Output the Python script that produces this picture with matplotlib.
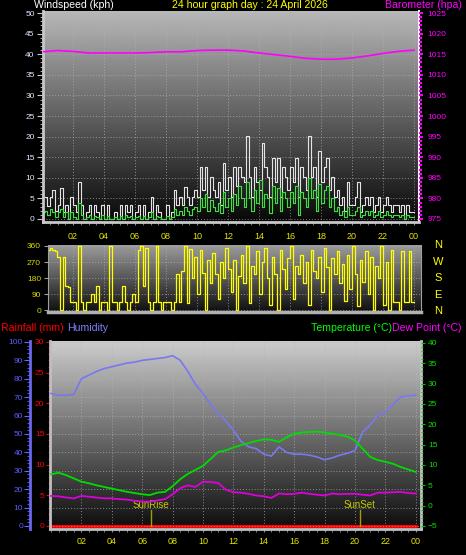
import numpy as np
import matplotlib.pyplot as plt
from matplotlib.ticker import MultipleLocator, FixedLocator

plt.rcParams['font.family'] = ['Liberation Sans', 'DejaVu Sans']

# wind, 10 minute samples over the day
hours = np.arange(145) / 6.0
gust = [5.4, 5.4, 3.2, 5.4, 7.0, 2.0,
        3.4, 7.5, 1.6, 3.4, 0.0, 5.4,
        3.4, 1.6, 9.0, 3.4, 0.0, 1.6,
        3.4, 0.0, 3.4, 1.6, 0.0, 3.4,
        0.0, 3.4, 0.0, 0.0, 1.6, 0.0,
        3.4, 0.0, 3.4, 1.6, 3.4, 0.0,
        1.6, 3.4, 0.0, 3.4, 0.0, 1.6,
        5.4, 0.0, 3.4, 1.6, 0.0, 0.0,
        3.4, 0.0, 1.6, 7.0, 3.4, 5.4,
        3.4, 7.7, 5.4, 3.4, 5.4, 7.0,
        5.4, 12.7, 7.0, 12.7, 5.4, 10.3,
        7.0, 5.4, 9.0, 3.4, 13.6, 7.0,
        10.3, 5.4, 12.7, 8.0, 12.7, 10.3,
        9.0, 20.2, 10.3, 5.4, 12.7, 9.0,
        7.0, 18.5, 12.7, 10.3, 5.4, 14.8,
        9.0, 14.8, 5.4, 12.7, 10.3, 7.0,
        12.7, 9.0, 14.8, 5.4, 12.7, 10.3,
        7.0, 20.2, 10.3, 12.7, 5.4, 16.4,
        9.0, 12.7, 14.8, 7.0, 10.3, 5.4,
        7.0, 3.4, 5.4, 2.0, 9.0, 3.4,
        3.4, 5.4, 9.0, 1.6, 3.4, 5.4,
        3.4, 5.4, 1.6, 3.4, 5.4, 1.6,
        3.4, 5.4, 3.4, 1.6, 3.4, 3.4,
        1.6, 3.4, 0.0, 3.4, 1.6, 1.8,
        1.6]
avg = [1.6, 2.0, 1.0, 2.5, 1.6, 0.5,
       1.6, 2.5, 0.5, 1.6, 0.0, 1.6,
       0.5, 0.0, 4.0, 1.0, 0.0, 0.5,
       1.0, 0.0, 0.8, 0.5, 0.0, 1.0,
       0.0, 0.8, 0.0, 0.0, 0.5, 0.0,
       0.8, 0.0, 1.0, 0.5, 0.8, 0.0,
       0.5, 0.8, 0.0, 0.8, 0.0, 0.5,
       1.6, 0.0, 0.8, 0.5, 0.0, 0.0,
       0.8, 0.0, 0.5, 2.5, 1.0, 2.0,
       1.0, 3.0, 2.0, 1.0, 2.5, 3.0,
       2.0, 5.0, 3.0, 6.0, 2.0, 4.5,
       3.0, 2.0, 4.0, 1.5, 6.5, 3.0,
       5.0, 2.0, 6.0, 3.5, 8.0, 5.0,
       3.0, 9.0, 5.0, 2.0, 7.0, 4.0,
       9.5, 3.0, 6.0, 5.0, 1.5, 8.0,
       4.0, 7.5, 2.0, 6.5, 5.0, 3.0,
       6.5, 4.0, 8.0, 1.0, 6.5, 5.0,
       3.0, 10.0, 5.0, 7.0, 2.0, 8.5,
       4.0, 7.0, 8.0, 3.0, 5.0, 2.0,
       3.0, 1.0, 2.0, 0.5, 3.0, 1.0,
       1.0, 2.0, 3.0, 0.5, 1.0, 2.0,
       1.0, 2.0, 0.5, 1.0, 2.0, 0.5,
       1.0, 2.0, 1.0, 0.5, 1.0, 1.0,
       0.5, 1.0, 0.0, 1.0, 0.5, 0.5,
       0.5]
wdir = [340, 345, 335, 350, 340, 330,
        300, 0, 300, 135, 130, 45,
        45, 0, 360, 45, 0, 45,
        45, 90, 45, 135, 0, 45,
        45, 0, 360, 45, 45, 0,
        45, 135, 45, 0, 45, 90,
        45, 340, 360, 135, 350, 45,
        0, 45, 360, 45, 0, 45,
        45, 45, 0, 45, 200, 45,
        220, 360, 40, 345, 180, 300,
        90, 340, 210, 0, 280, 150,
        320, 200, 60, 270, 180, 350,
        230, 100, 280, 0, 190, 310,
        150, 360, 40, 250, 200, 330,
        90, 270, 350, 180, 30, 300,
        200, 0, 340, 230, 120, 290,
        360, 60, 250, 200, 310, 150,
        270, 30, 340, 220, 180, 300,
        100, 350, 240, 0, 290, 200,
        330, 150, 260, 50, 310, 120,
        360, 200, 20, 280, 160, 330,
        90, 300, 0, 250, 180, 360,
        30, 270, 0, 340, 45, 45,
        0, 330, 45, 45, 330, 45,
        45]

# barometer, hourly
baro_h = np.arange(25)
baro = [1015.6, 1015.9, 1015.7, 1015.3, 1015.3, 1015.3, 1015.3, 1015.4, 1015.6,
        1015.6, 1015.9, 1016.0, 1016.0, 1015.8, 1015.3, 1014.9, 1014.5, 1014.0,
        1013.8, 1013.8, 1014.1, 1014.6, 1015.2, 1015.7, 1016.0]

# temperature / dew point / humidity, half hourly
half_h = np.arange(49) / 2.0
temp = [7.7, 8.1, 7.5, 6.7, 5.9, 5.5, 5.0, 4.6, 4.2, 3.8, 3.4, 3.1, 2.8, 2.6,
        3.2, 3.4, 4.8, 6.5, 7.8, 8.8, 9.8, 11.5, 13.2, 13.6, 14.3, 14.9, 15.4,
        15.9, 16.3, 16.2, 15.7, 16.8, 17.7, 18.0, 18.1, 18.2, 18.0, 17.7, 17.4,
        17.0, 16.0, 14.0, 12.0, 11.2, 10.8, 10.3, 9.5, 8.9, 8.3]
dew = [2.4, 2.3, 2.0, 1.8, 2.4, 2.2, 2.0, 1.8, 1.8, 1.6, 1.5, 1.2, 1.0, 1.0,
       1.3, 1.6, 2.8, 4.3, 5.0, 4.6, 5.9, 5.8, 5.6, 3.9, 3.3, 3.2, 2.9, 2.5,
       2.3, 1.9, 3.0, 2.8, 2.9, 3.2, 2.9, 2.7, 2.5, 3.0, 2.8, 2.9, 2.9, 2.7,
       2.5, 3.2, 3.2, 3.3, 3.4, 3.1, 3.0]
hum = [72, 71, 71, 71.5, 80, 82, 84, 85.5, 86.5, 87.5, 88.5, 89, 90, 90.5, 91,
       91.5, 92.5, 90, 84, 77, 72, 66, 61, 57, 52, 46, 43, 42, 39, 38, 43, 40,
       39, 39, 38.5, 37.5, 36, 37, 38.5, 39.5, 41, 51, 55, 60, 62, 66, 70, 70.8, 71]
rain_h = np.arange(25)
rain = [0.0] * 25

sunrise = 6.6
sunset = 20.3
hour_ticks = np.arange(2, 25, 2)
hour_labels = ['02', '04', '06', '08', '10', '12', '14', '16', '18', '20', '22', '00']

W, H = 466, 555
fig = plt.figure(figsize=(W / 100, H / 100), dpi=100, facecolor='black')


def place(x0, y0, x1, y1):
    return [x0 / W, 1 - y1 / H, (x1 - x0) / W, (y1 - y0) / H]


def backdrop(rect, top, bottom):
    bg = fig.add_axes(rect, zorder=0)
    g = np.linspace(top, bottom, 200).reshape(-1, 1)
    bg.imshow(g, cmap='gray', vmin=0, vmax=1, aspect='auto', extent=[0, 1, 0, 1])
    bg.set_axis_off()


dots = dict(color='#b4b4b4', linestyle=(0, (1, 2)), linewidth=0.7, alpha=0.7)
yellow = '#e6e600'

# ---- wind / barometer ----
r1 = place(43, 11, 419, 222)
backdrop(r1, 0.72, 0.03)
ax_w = fig.add_axes(r1, zorder=1, facecolor='none')
ax_w.step(hours, gust, where='post', color='#e4e4e4', lw=0.8)
ax_w.step(hours, avg, where='post', color='#40e040', lw=0.8)
ax_w.set_xlim(0.06, 24.32)
ax_w.set_ylim(-0.73, 50.5)
ax_w.yaxis.set_major_locator(MultipleLocator(5))
ax_w.yaxis.set_minor_locator(MultipleLocator(1))
ax_w.xaxis.set_major_locator(FixedLocator(hour_ticks))
ax_w.xaxis.set_minor_locator(MultipleLocator(0.5))
ax_w.set_xticklabels(hour_labels)
ax_w.tick_params(axis='y', which='major', colors='#c8c8c8', labelcolor='#e0e8ff',
                 labelsize=6, length=4, pad=2)
ax_w.tick_params(axis='y', which='minor', colors='#c8c8c8', length=2)
ax_w.tick_params(axis='x', which='both', colors='#909090', labelcolor=yellow,
                 labelsize=6.5, length=2, pad=5)
ax_w.grid(True, **dots)
for s in ['left', 'bottom']:
    ax_w.spines[s].set_color('#c8c8c8')
    ax_w.spines[s].set_linewidth(2)
ax_w.spines['top'].set_visible(False)
ax_w.spines['right'].set_color('#f0f0f0')
ax_w.spines['right'].set_linewidth(1.5)

ax_b = ax_w.twinx()
ax_b.plot(baro_h, baro, color='#ff00ff', lw=1.2)
ax_b.set_ylim(975 - 0.73, 1025.5)
ax_b.yaxis.set_major_locator(MultipleLocator(5))
ax_b.yaxis.set_minor_locator(MultipleLocator(1))
ax_b.tick_params(axis='y', which='major', colors='#ff00ff', labelsize=6, length=3, width=1.5, pad=3)
ax_b.tick_params(axis='y', which='minor', colors='#ff00ff', length=2, width=1.5)
for s in ax_b.spines.values():
    s.set_visible(False)

# ---- wind direction ----
r2 = place(48, 245, 421, 312)
backdrop(r2, 0.62, 0.06)
ax_d = fig.add_axes(r2, zorder=1, facecolor='none')
ax_d.step(hours, wdir, where='post', color='#ffff00', lw=0.9)
ax_d.set_xlim(0.39, 24.45)
ax_d.set_ylim(-11, 365.6)
ax_d.set_yticks([0, 90, 180, 270, 360])
ax_d.set_xticks(hour_ticks)
ax_d.set_xticklabels([])
ax_d.tick_params(axis='x', length=0)
ax_d.tick_params(axis='y', colors='#a0a0a0', labelcolor='#d8d800', labelsize=6, length=3, pad=2)
ax_d.grid(True, **dots)
ax_d.spines['top'].set_visible(False)
for s in ['left', 'right']:
    ax_d.spines[s].set_color('#a0a0a0')
ax_d.spines['bottom'].set_color('#b0b0b0')
ax_d.spines['bottom'].set_linewidth(2.5)
for lab, yy in zip(['N', 'W', 'S', 'E', 'N'], [245, 262, 278, 295, 311]):
    fig.text(438 / W, 1 - yy / H, lab, color='#ffff00', fontsize=8, ha='center', va='center')

# ---- rain / humidity / temperature ----
r3 = place(50, 341, 421, 529)
backdrop(r3, 0.8, 0.05)
ax_r = fig.add_axes(r3, zorder=1, facecolor='none')
ax_r.plot(rain_h, rain, color='#ff0000', lw=2.2)
ax_r.set_xlim(-0.066, 24.34)
ax_r.set_ylim(-0.49, 30.16)
ax_r.yaxis.set_major_locator(MultipleLocator(5))
ax_r.yaxis.set_minor_locator(MultipleLocator(1))
ax_r.xaxis.set_major_locator(FixedLocator(hour_ticks))
ax_r.xaxis.set_minor_locator(MultipleLocator(0.5))
ax_r.set_xticklabels(hour_labels)
ax_r.tick_params(axis='y', which='major', colors='#e00000', labelcolor='#ff0000',
                 labelsize=6, length=3, pad=1)
ax_r.tick_params(axis='y', which='minor', colors='#e00000', length=1.5)
ax_r.tick_params(axis='x', which='both', colors='#909090', labelcolor=yellow,
                 labelsize=6.5, length=2, pad=4)
ax_r.grid(True, axis='x', **dots)
for s in ['left', 'bottom', 'right']:
    ax_r.spines[s].set_color('#c0c0c0')
    ax_r.spines[s].set_linewidth(2)
ax_r.spines['top'].set_visible(False)
for t, name in [(sunrise, 'SunRise'), (sunset, 'SunSet')]:
    ax_r.plot([t, t], [0, 2.6], color='#a0a000', lw=1)
    ax_r.text(t, 2.6, name, color='#c8c800', fontsize=7, ha='center', va='bottom')

ax_h = ax_r.twinx()
ax_h.plot(half_h, hum, color='#7878f0', lw=1.2)
ax_h.set_ylim(-1.63, 100.5)
ax_h.yaxis.tick_left()
ax_h.yaxis.set_major_locator(MultipleLocator(10))
ax_h.yaxis.set_minor_locator(MultipleLocator(2))
ax_h.tick_params(axis='y', which='major', colors='#6868f0', labelcolor='#5a5aff',
                 labelsize=6, length=4, pad=1)
ax_h.tick_params(axis='y', which='minor', colors='#6868f0', length=2)
ax_h.grid(True, axis='y', **dots)
for s in ax_h.spines.values():
    s.set_visible(False)
ax_h.spines['left'].set_visible(True)
ax_h.spines['left'].set_position(('outward', 14.4))
ax_h.spines['left'].set_color('#6868f0')
ax_h.spines['left'].set_linewidth(2)

ax_t = ax_r.twinx()
ax_t.plot(half_h, temp, color='#00dd00', lw=1.3)
ax_t.plot(half_h, dew, color='#dd00dd', lw=1.3)
ax_t.set_ylim(-5.74, 40.49)
ax_t.yaxis.set_major_locator(MultipleLocator(5))
ax_t.yaxis.set_minor_locator(MultipleLocator(1))
ax_t.tick_params(axis='y', which='major', colors='#00c000', labelcolor='#00e000',
                 labelsize=6, length=3, pad=2)
ax_t.tick_params(axis='y', which='minor', colors='#00c000', length=1.5)
for s in ax_t.spines.values():
    s.set_visible(False)

# ---- titles ----
fs = 7.6
fig.text(34 / W, 1 - 8 / H, 'Windspeed (kph)', color='white', fontsize=fs, va='baseline')
fig.text(250 / W, 1 - 8 / H, '24 hour graph day : 24 April 2026', color='#ffff00',
         fontsize=fs, ha='center', va='baseline')
fig.text(462 / W, 1 - 8 / H, 'Barometer (hpa)', color='#ff00ff', fontsize=fs,
         ha='right', va='baseline')
fig.text(1 / W, 1 - 331 / H, 'Rainfall (mm)', color='#ff0000', fontsize=fs, va='baseline')
fig.text(67 / W, 1 - 331 / H, 'Humidity', color='#8080ff', fontsize=fs, va='baseline')
fig.text(392 / W, 1 - 331 / H, 'Temperature (°C)', color='#00ff00', fontsize=fs,
         ha='right', va='baseline')
fig.text(462 / W, 1 - 331 / H, 'Dew Point (°C)', color='#ff00ff', fontsize=fs,
         ha='right', va='baseline')

fig.savefig('out.png', dpi=100, facecolor='black')
